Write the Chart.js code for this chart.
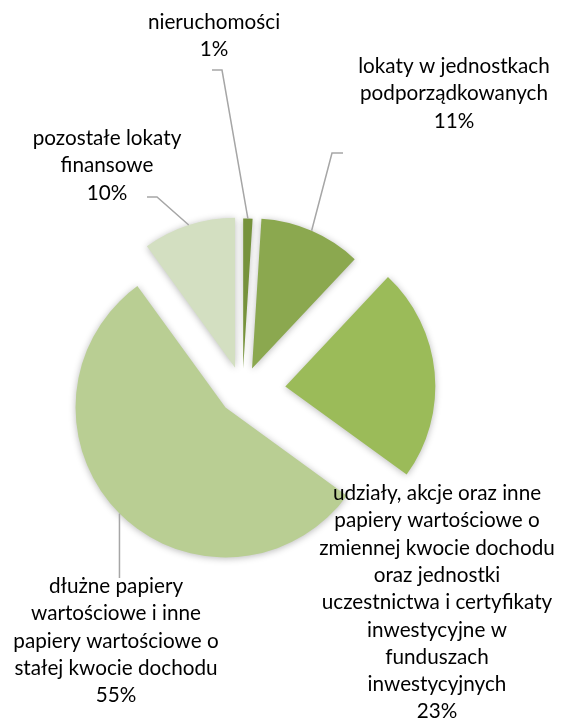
<!DOCTYPE html>
<html>
<head>
<meta charset="utf-8">
<script src="https://cdn.jsdelivr.net/npm/chart.js@4.4.1/dist/chart.umd.min.js"></script>
<style>
  html, body { margin: 0; padding: 0; background: #fff; }
  #wrap { width: 566px; height: 720px; position: relative; }
</style>
</head>
<body>
<div id="wrap"><canvas id="pie-chart"></canvas></div>
<script>
// categories and shares (%)
var categories = [
  "nieruchomości",
  "lokaty w jednostkach podporządkowanych",
  "udziały, akcje oraz inne papiery wartościowe o zmiennej kwocie dochodu oraz jednostki uczestnictwa i certyfikaty inwestycyjne w funduszach inwestycyjnych",
  "dłużne papiery wartościowe i inne papiery wartościowe o stałej kwocie dochodu",
  "pozostałe lokaty finansowe"
];
var values = [1, 11, 23, 55, 10];
var colors = ["#76923C", "#8BA84F", "#9BBB59", "#B9CE93", "#D3DFC1"];
var explode = [22, 24, 43, 24, 24];

// label text split as in the picture
var labelLines = [
  ["nieruchomości"],
  ["lokaty w jednostkach", "podporządkowanych"],
  ["udziały, akcje oraz inne", "papiery wartościowe o", "zmiennej kwocie dochodu", "oraz jednostki", "uczestnictwa i certyfikaty", "inwestycyjne w", "funduszach", "inwestycyjnych"],
  ["dłużne papiery", "wartościowe i inne", "papiery wartościowe o", "stałej kwocie dochodu"],
  ["pozostałe lokaty", "finansowe"]
];

// label layout: centre x, first baseline y, leader elbow + end (null = no leader)
var labelPos = [[214, 29], [454, 73], [437, 500], [116, 593], [107, 145]];
var leaderPts = [
  [[222, 70], [212, 70]],
  [[332, 153], [343, 153]],
  null,
  [[null, 578]],
  [[157, 197], [147, 197]]
];

var FONT = "Lato, 'Open Sans', sans-serif";
var fontSize = 20;
(function () {
  var c = document.createElement("canvas").getContext("2d");
  c.font = "20px " + FONT;
  var w = c.measureText("lokaty w jednostkach").width;
  fontSize = Math.round(20 * 192 / w * 10) / 10;
})();
var lineH = 27.3;

var explodePlugin = {
  id: "explode",
  afterDatasetUpdate: function (chart, args) {
    args.meta.data.forEach(function (el, i) {
      var mid = (el.startAngle + el.endAngle) / 2;
      el.x = el.x + Math.cos(mid) * explode[i];
      el.y = el.y + Math.sin(mid) * explode[i];
    });
  },
  beforeDatasetsDraw: function (chart) {
    var ctx = chart.ctx;
    ctx.save();
    ctx.shadowColor = "rgba(0,0,0,0.28)";
    ctx.shadowBlur = 7;
    ctx.shadowOffsetX = 0;
    ctx.shadowOffsetY = 1;
  },
  afterDatasetsDraw: function (chart) {
    chart.ctx.restore();
  }
};

var labelPlugin = {
  id: "sliceLabels",
  afterDraw: function (chart) {
    var ctx = chart.ctx;
    var meta = chart.getDatasetMeta(0);
    ctx.save();
    meta.data.forEach(function (el, i) {
      var mid = (el.startAngle + el.endAngle) / 2;
      var ax = el.x + Math.cos(mid) * el.outerRadius;
      var ay = el.y + Math.sin(mid) * el.outerRadius;
      if (leaderPts[i]) {
        ctx.beginPath();
        ctx.strokeStyle = "#A6A6A6";
        ctx.lineWidth = 1.5;
        ctx.moveTo(ax, ay);
        leaderPts[i].forEach(function (p) {
          ctx.lineTo(p[0] === null ? ax : p[0], p[1]);
        });
        ctx.stroke();
      }
      var lines = labelLines[i].concat([values[i] + "%"]);
      ctx.fillStyle = "#000";
      ctx.font = fontSize + "px " + FONT;
      ctx.textAlign = "center";
      ctx.textBaseline = "alphabetic";
      lines.forEach(function (t, k) {
        ctx.fillText(t, labelPos[i][0], labelPos[i][1] + k * lineH);
      });
    });
    ctx.restore();
  }
};

new Chart(document.getElementById("pie-chart"), {
  type: "pie",
  data: {
    labels: categories,
    datasets: [{
      data: values,
      backgroundColor: colors,
      borderWidth: 0,
      radius: 150
    }]
  },
  options: {
    responsive: true,
    maintainAspectRatio: false,
    animation: false,
    layout: { padding: { left: 0, right: 81, top: 61, bottom: 0 } },
    plugins: {
      legend: { display: false },
      tooltip: { enabled: false }
    },
    events: []
  },
  plugins: [explodePlugin, labelPlugin]
});
</script>
</body>
</html>
